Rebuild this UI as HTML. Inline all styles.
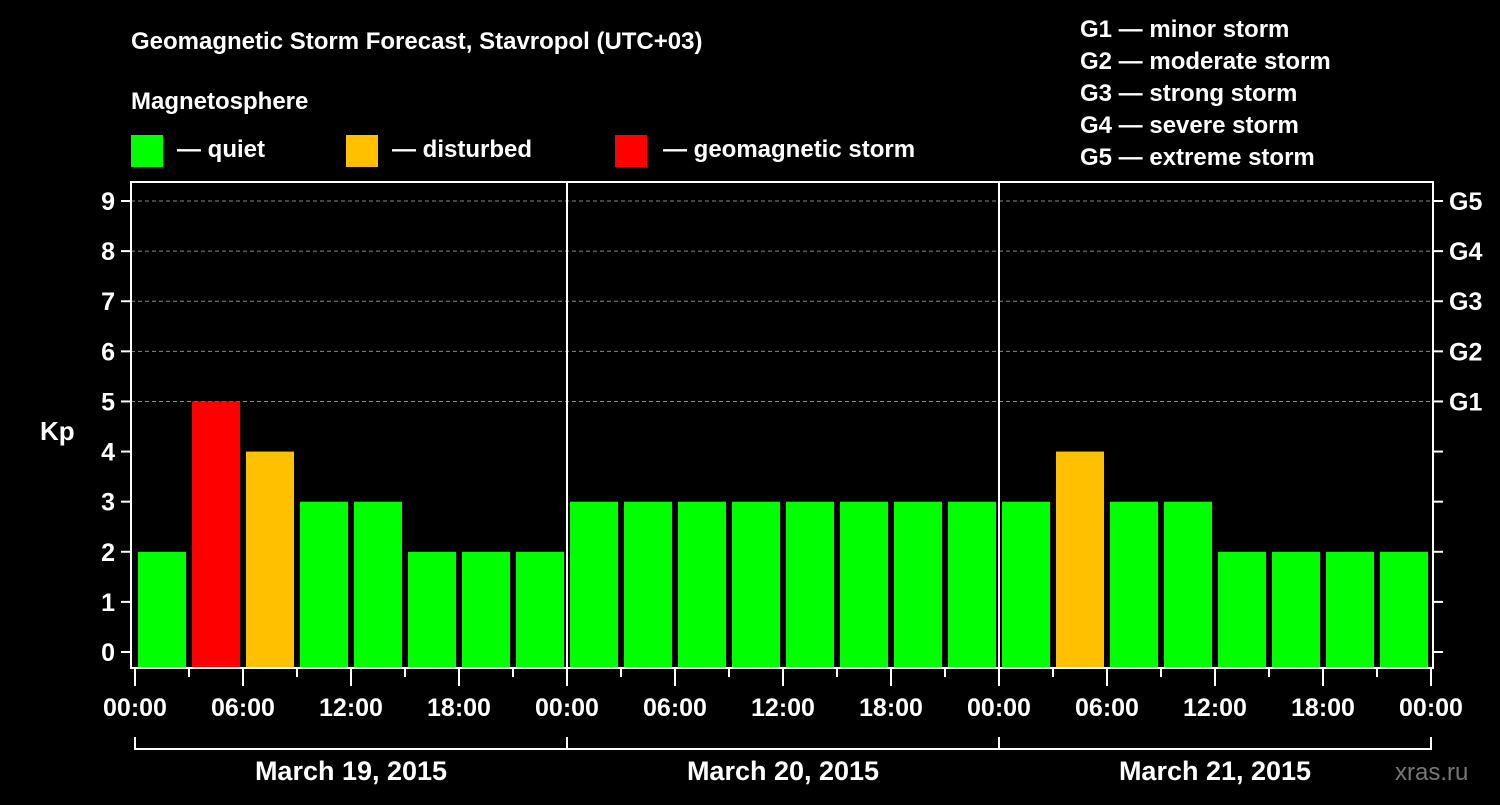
<!DOCTYPE html>
<html><head><meta charset="utf-8"><style>
body{margin:0;background:#000;}
svg text{font-family:"Liberation Sans",Arial,sans-serif;font-weight:bold;fill:#fff;}
</style></head><body>
<svg id="c" width="1500" height="800" xmlns="http://www.w3.org/2000/svg">
<rect width="1500" height="800" fill="#000"/>
<text x="131" y="49" font-size="24">Geomagnetic Storm Forecast, Stavropol (UTC+03)</text>
<text x="131" y="109" font-size="24">Magnetosphere</text>
<g><rect x="131" y="135" width="32" height="32" fill="#00ff00"/><text x="177" y="157" font-size="24">— quiet</text></g>
<g><rect x="346" y="135" width="32" height="32" fill="#ffc000"/><text x="392" y="157" font-size="24">— disturbed</text></g>
<g><rect x="615" y="135" width="32" height="32" fill="#ff0000"/><text x="663" y="157" font-size="24">— geomagnetic storm</text></g>
<g font-size="24">
<text x="1080" y="37">G1 — minor storm</text>
<text x="1080" y="69">G2 — moderate storm</text>
<text x="1080" y="101">G3 — strong storm</text>
<text x="1080" y="133">G4 — severe storm</text>
<text x="1080" y="165">G5 — extreme storm</text>
</g>
<text x="40" y="440" font-size="26">Kp</text>
<text x="1395" y="780" font-size="24" fill="#777" style="fill:#777;font-weight:normal">xras.ru</text>
<g id="grid"></g><g id="bars"></g><g id="axes"></g>
</svg>
<script>
const kpValues=[2,5,4,3,3,2,2,2, 3,3,3,3,3,3,3,3, 3,4,3,3,2,2,2,2];
const yTicks=[0,1,2,3,4,5,6,7,8,9];
const gLabels=["G1","G2","G3","G4","G5"];
const gLevels=[5,6,7,8,9];
const hourLabels=["00:00","06:00","12:00","18:00"];
const dayLabels=["March 19, 2015","March 20, 2015","March 21, 2015"];
const NS="http://www.w3.org/2000/svg";
const L=131,R=1433,T=182,B=668,X0=135,DAY=432;
const y=v=>652-v*50.11;
const x=h=>X0+h*DAY/24;
function mk(p,tag,a){const e=document.createElementNS(NS,tag);for(const k in a)e.setAttribute(k,a[k]);p.appendChild(e);return e;}
const grid=document.getElementById('grid'),bars=document.getElementById('bars'),axes=document.getElementById('axes');
gLevels.forEach(v=>{const l=mk(grid,'line',{x1:L,x2:R,y1:y(v),y2:y(v),stroke:'#888','stroke-dasharray':'4,3','stroke-width':1});

});
kpValues.forEach((v,i)=>{const c=v>=5?'#ff0000':v>=4?'#ffc000':'#00ff00';
const r=mk(bars,'rect',{x:x(i*3)+3,y:y(v),width:48,height:B-y(v),fill:c});

});
const f=mk(axes,'rect',{x:L,y:T,width:R-L,height:B-T,fill:'none',stroke:'#fff','stroke-width':2});


[1,2].forEach(d=>{const l=mk(axes,'line',{x1:x(d*24),x2:x(d*24),y1:T,y2:B,stroke:'#fff','stroke-width':2});

});
yTicks.forEach(v=>{mk(axes,'line',{x1:121,x2:L,y1:y(v),y2:y(v),stroke:'#fff','stroke-width':2});
mk(axes,'line',{x1:R,x2:1443,y1:y(v),y2:y(v),stroke:'#fff','stroke-width':2});
const t=mk(axes,'text',{x:115,y:y(v)+9,'font-size':25,'text-anchor':'end'});t.textContent=v;

});
gLevels.forEach((v,i)=>{const t=mk(axes,'text',{x:1449,y:y(v)+9,'font-size':25});t.textContent=gLabels[i];

});
for(let h=0;h<=72;h+=3){const major=h%6===0;mk(axes,'line',{x1:x(h),x2:x(h),y1:B,y2:major?686:677,stroke:'#fff','stroke-width':2});
if(major&&h%6===0&&(h%24)%6===0){const lab=h===72?"00:00":hourLabels[(h%24)/6];
const t=mk(axes,'text',{x:x(h),y:716,'font-size':25,'text-anchor':'middle'});t.textContent=lab;

}}
mk(axes,'path',{d:`M${x(0)} 737V749H${x(72)}V737M${x(24)} 737V749M${x(48)} 737V749`,stroke:'#fff','stroke-width':2,fill:'none'});
dayLabels.forEach((d,i)=>{const t=mk(axes,'text',{x:x(i*24+12),y:780,'font-size':27,'text-anchor':'middle'});t.textContent=d;

});
</script>
</body></html>
